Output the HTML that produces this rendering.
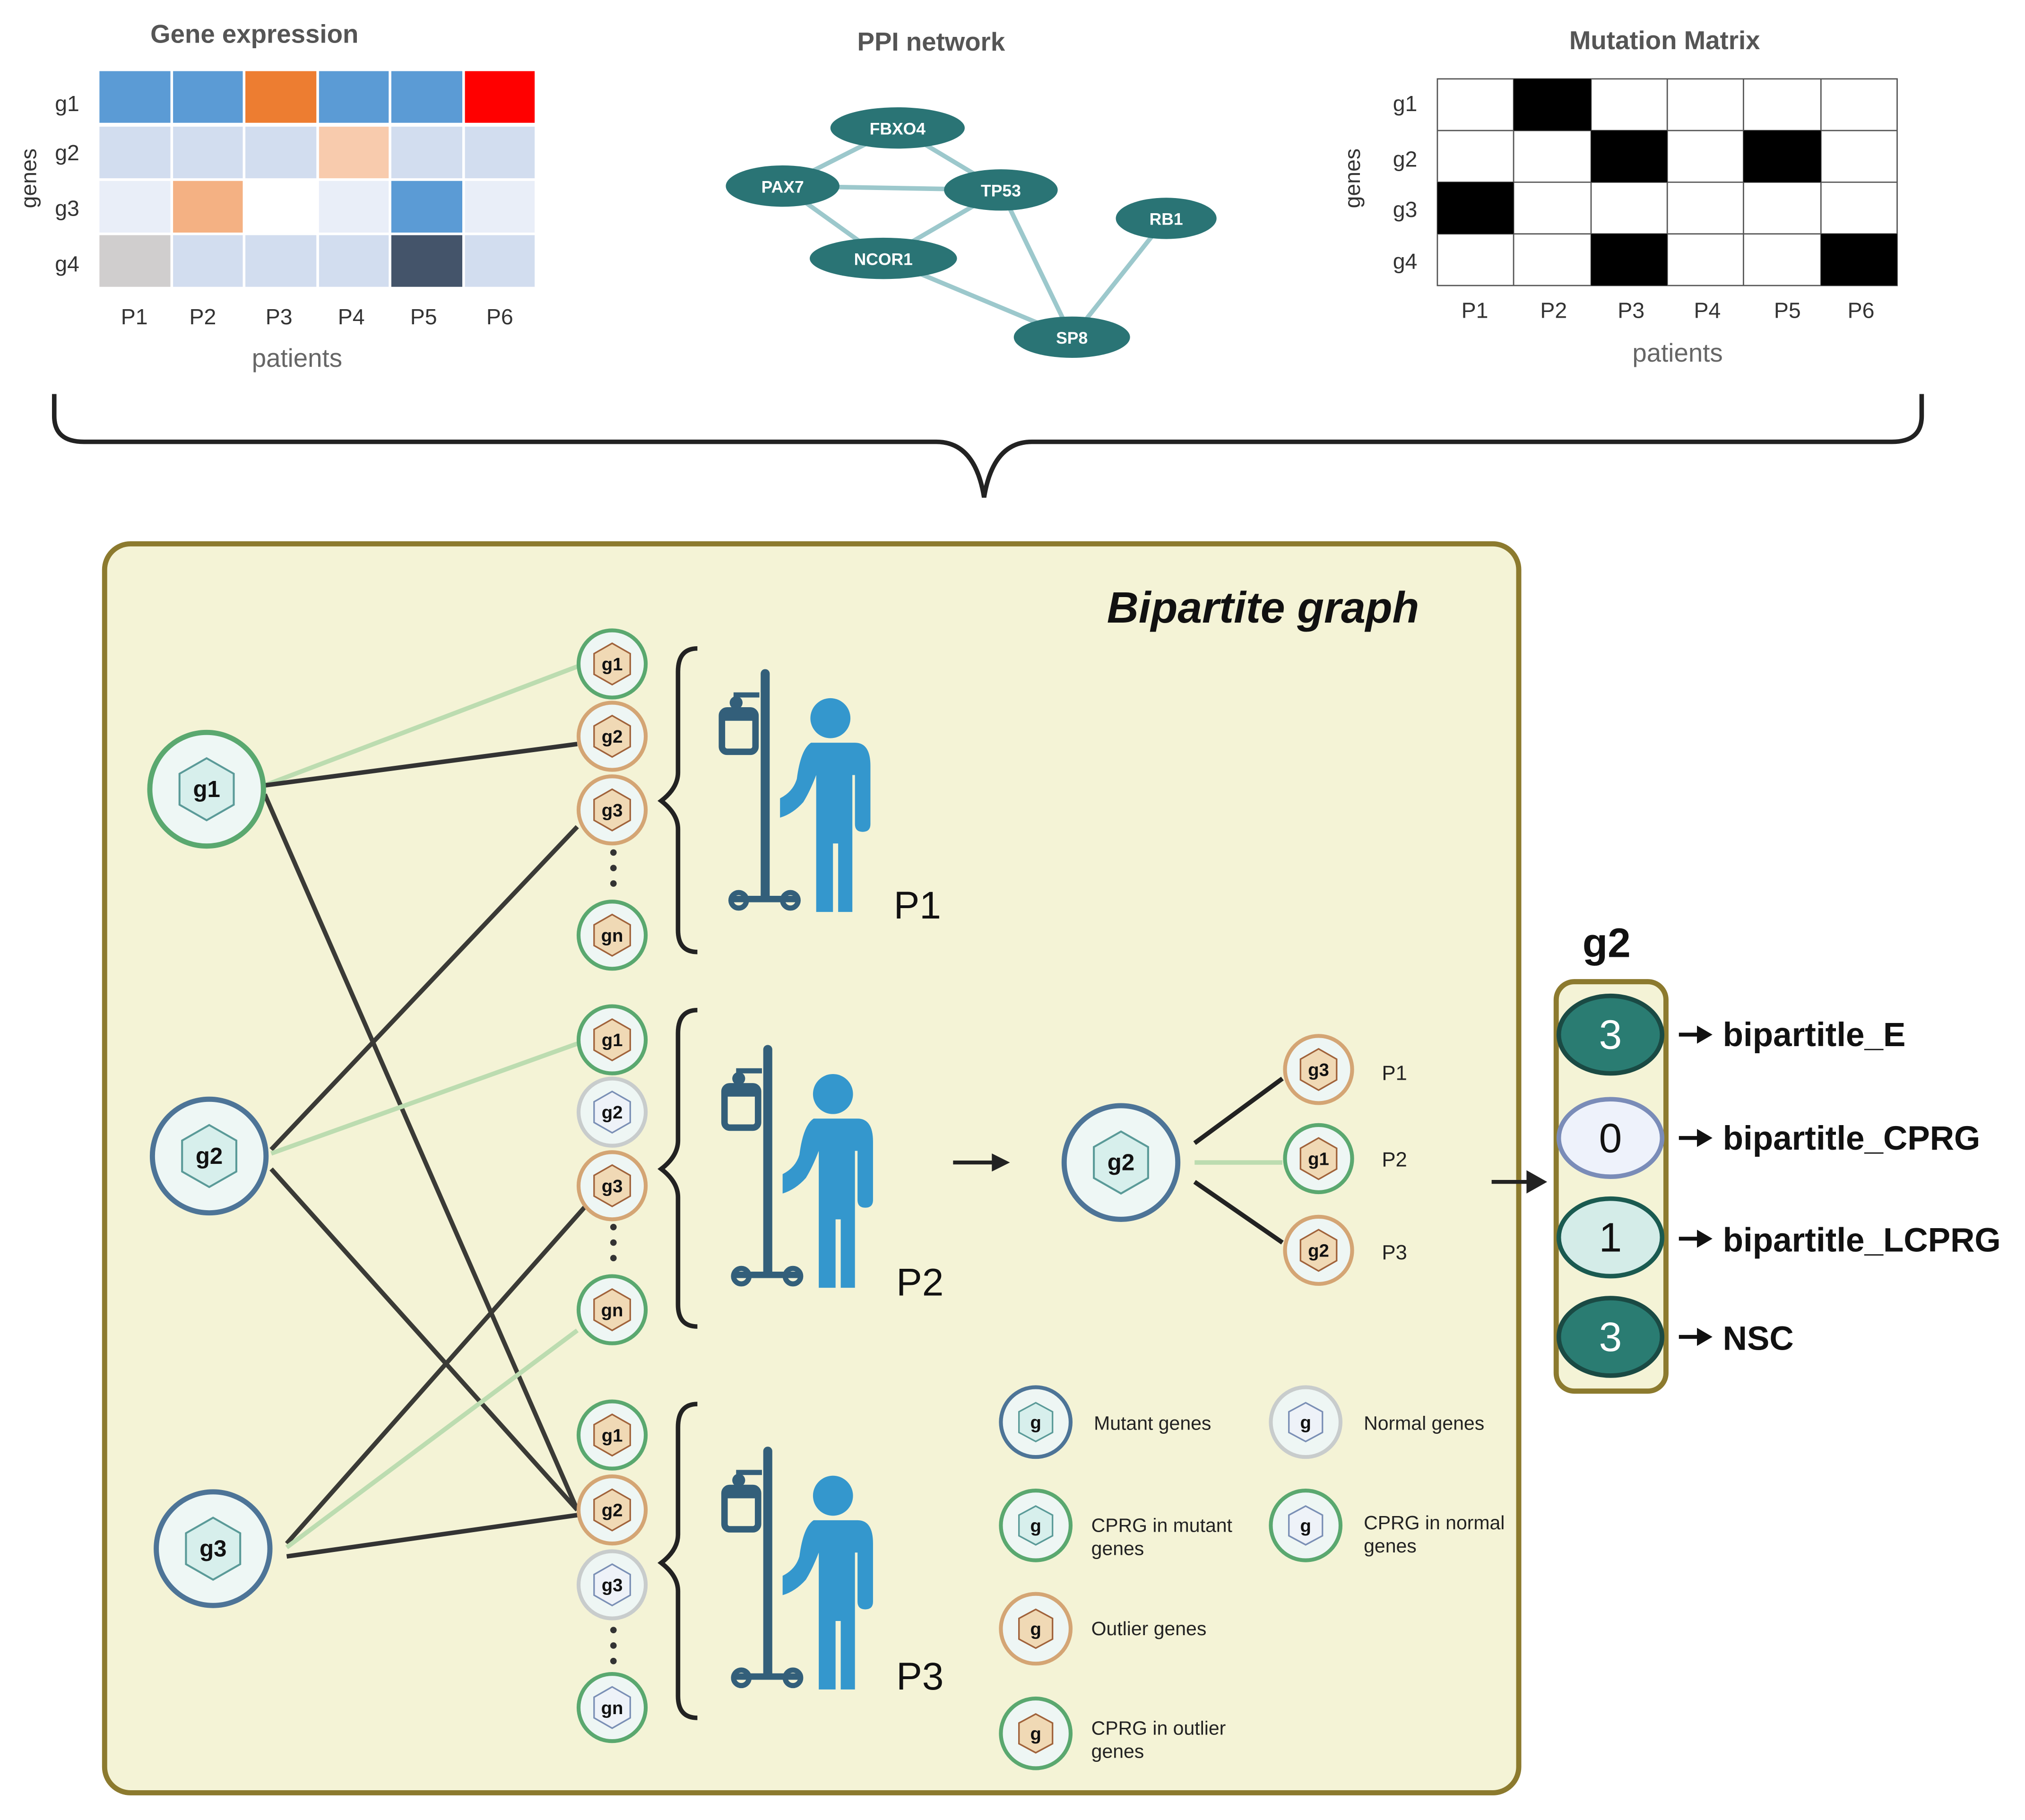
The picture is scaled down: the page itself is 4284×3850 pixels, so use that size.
<!DOCTYPE html>
<html><head><meta charset="utf-8"><style>html,body{margin:0;padding:0;background:#fff}svg{display:block}text{font-family:"Liberation Sans",sans-serif}</style></head><body>
<svg width="4284" height="3850" viewBox="0 0 1568 1409" xmlns="http://www.w3.org/2000/svg">
<defs>
<g id="pt">
 <rect x="-3" y="0" width="7" height="180" rx="3.5" fill="#335f7a"/>
 <path d="M-4 20 H-22 V28" stroke="#335f7a" stroke-width="4" fill="none"/>
 <circle cx="-22" cy="26" r="5" fill="#335f7a"/>
 <rect x="-33" y="32" width="26" height="32" rx="4" fill="none" stroke="#335f7a" stroke-width="5"/>
 <rect x="-33" y="32" width="26" height="8" fill="#335f7a"/>
 <path d="M-25 178 H25" stroke="#335f7a" stroke-width="5"/>
 <circle cx="-20" cy="179" r="6" fill="none" stroke="#335f7a" stroke-width="4"/>
 <circle cx="20" cy="179" r="6" fill="none" stroke="#335f7a" stroke-width="4"/>
 <circle cx="51" cy="38" r="15.5" fill="#3497cd"/>
 <path d="M36 57 H70 Q82 57 82 75 V120 Q82 126 76 126 Q70 126 70 120 V82 H68 V188 H57 V135 H53 V188 H40 V82 Q35 95 30 103 Q22 112 12 115 V100 Q22 95 25 85 Q28 62 36 57 Z" fill="#3497cd"/>
</g>
</defs>
<rect width="1568" height="1409" fill="#fff"/>
<!-- Gene expression -->
<text x="197" y="33" font-size="20" font-weight="bold" fill="#555" text-anchor="middle">Gene expression</text>
<g stroke="#fff" stroke-width="2">
<rect x="76" y="54" width="57" height="42" fill="#5b9bd5"/><rect x="133" y="54" width="56" height="42" fill="#5b9bd5"/><rect x="189" y="54" width="57" height="42" fill="#ed7d31"/><rect x="246" y="54" width="56" height="42" fill="#5b9bd5"/><rect x="302" y="54" width="57" height="42" fill="#5b9bd5"/><rect x="359" y="54" width="56" height="42" fill="#ff0000"/>
<rect x="76" y="97" width="57" height="42" fill="#d2ddef"/><rect x="133" y="97" width="56" height="42" fill="#d2ddef"/><rect x="189" y="97" width="57" height="42" fill="#d2ddef"/><rect x="246" y="97" width="56" height="42" fill="#f8cbad"/><rect x="302" y="97" width="57" height="42" fill="#d2ddef"/><rect x="359" y="97" width="56" height="42" fill="#d2ddef"/>
<rect x="76" y="139" width="57" height="42" fill="#e9eef8"/><rect x="133" y="139" width="56" height="42" fill="#f4b183"/><rect x="189" y="139" width="57" height="42" fill="#ffffff"/><rect x="246" y="139" width="56" height="42" fill="#e9eef8"/><rect x="302" y="139" width="57" height="42" fill="#5b9bd5"/><rect x="359" y="139" width="56" height="42" fill="#e9eef8"/>
<rect x="76" y="181" width="57" height="42" fill="#d0cece"/><rect x="133" y="181" width="56" height="42" fill="#d2ddef"/><rect x="189" y="181" width="57" height="42" fill="#d2ddef"/><rect x="246" y="181" width="56" height="42" fill="#d2ddef"/><rect x="302" y="181" width="57" height="42" fill="#44546a"/><rect x="359" y="181" width="56" height="42" fill="#d2ddef"/>
</g>
<g font-size="17" fill="#333" text-anchor="middle">
<text x="52" y="86">g1</text><text x="52" y="124">g2</text><text x="52" y="167">g3</text><text x="52" y="210">g4</text>
<text x="104" y="251">P1</text><text x="157" y="251">P2</text><text x="216" y="251">P3</text><text x="272" y="251">P4</text><text x="328" y="251">P5</text><text x="387" y="251">P6</text>
<text transform="translate(28,138) rotate(-90)">genes</text>
<text x="230" y="284" font-size="20" fill="#666">patients</text>
</g>
<!-- PPI -->
<text x="721" y="39" font-size="20" font-weight="bold" fill="#555" text-anchor="middle">PPI network</text>
<g stroke="#9cc8cc" stroke-width="3.5">
<line x1="695" y1="99" x2="606" y2="144"/><line x1="695" y1="99" x2="775" y2="147"/><line x1="606" y1="144" x2="775" y2="147"/><line x1="606" y1="144" x2="684" y2="200"/><line x1="684" y1="200" x2="775" y2="147"/><line x1="775" y1="147" x2="830" y2="261"/><line x1="684" y1="200" x2="830" y2="261"/><line x1="903" y1="169" x2="830" y2="261"/>
</g>
<g fill="#2a7475">
<ellipse cx="695" cy="99" rx="52" ry="16"/><ellipse cx="606" cy="144" rx="44" ry="16"/><ellipse cx="775" cy="147" rx="44" ry="16"/><ellipse cx="684" cy="200" rx="57" ry="16"/><ellipse cx="903" cy="169" rx="39" ry="16"/><ellipse cx="830" cy="261" rx="45" ry="16"/>
</g>
<g fill="#fff" font-size="13" font-weight="bold" text-anchor="middle">
<text x="695" y="104">FBXO4</text><text x="606" y="149">PAX7</text><text x="775" y="152">TP53</text><text x="684" y="205">NCOR1</text><text x="903" y="174">RB1</text><text x="830" y="266">SP8</text>
</g>
<!-- Mutation -->
<text x="1289" y="38" font-size="20" font-weight="bold" fill="#555" text-anchor="middle">Mutation Matrix</text>
<g stroke="#555" stroke-width="1">
<rect x="1113" y="61" width="356" height="160" fill="#fff"/>
<line x1="1172" y1="61" x2="1172" y2="221"/><line x1="1232" y1="61" x2="1232" y2="221"/><line x1="1291" y1="61" x2="1291" y2="221"/><line x1="1350" y1="61" x2="1350" y2="221"/><line x1="1410" y1="61" x2="1410" y2="221"/>
<line x1="1113" y1="101" x2="1469" y2="101"/><line x1="1113" y1="141" x2="1469" y2="141"/><line x1="1113" y1="181" x2="1469" y2="181"/>
</g>
<g fill="#000">
<rect x="1172" y="61" width="60" height="40"/><rect x="1232" y="101" width="59" height="40"/><rect x="1350" y="101" width="60" height="40"/><rect x="1113" y="141" width="59" height="40"/><rect x="1232" y="181" width="59" height="40"/><rect x="1410" y="181" width="59" height="40"/>
</g>
<g font-size="17" fill="#333" text-anchor="middle">
<text x="1088" y="86">g1</text><text x="1088" y="129">g2</text><text x="1088" y="168">g3</text><text x="1088" y="208">g4</text>
<text x="1142" y="246">P1</text><text x="1203" y="246">P2</text><text x="1263" y="246">P3</text><text x="1322" y="246">P4</text><text x="1384" y="246">P5</text><text x="1441" y="246">P6</text>
<text transform="translate(1053,138) rotate(-90)">genes</text>
<text x="1299" y="280" font-size="20" fill="#666">patients</text>
</g>
<!-- brace -->
<path d="M42 305 V322 Q42 342 65 342 H725 Q755 342 762 385 Q769 342 799 342 H1465 Q1488 342 1488 322 V305" fill="none" stroke="#222" stroke-width="3.5"/>
<!-- box -->
<rect x="81" y="421" width="1095" height="967" rx="20" fill="#f4f3d6" stroke="#8c7a2e" stroke-width="4"/>
<text x="978" y="482" font-size="34" font-weight="bold" font-style="italic" fill="#111" text-anchor="middle">Bipartite graph</text>
<!-- edges -->
<g stroke-width="3.5" fill="none">
<line x1="205" y1="608" x2="447" y2="516" stroke="#bcdcb0"/>
<line x1="205" y1="608" x2="447" y2="576" stroke="#333"/>
<line x1="205" y1="615" x2="447" y2="1169" stroke="#3a3a36"/>
<line x1="210" y1="890" x2="447" y2="640" stroke="#3a3a36"/>
<line x1="210" y1="893" x2="447" y2="808" stroke="#bcdcb0"/>
<line x1="210" y1="905" x2="447" y2="1169" stroke="#3a3a36"/>
<line x1="222" y1="1195" x2="455" y2="932" stroke="#3a3a36"/>
<line x1="222" y1="1198" x2="447" y2="1030" stroke="#bcdcb0"/>
<line x1="222" y1="1205" x2="447" y2="1173" stroke="#333"/>
<line x1="925" y1="885" x2="993" y2="835" stroke="#222"/>
<line x1="925" y1="900" x2="993" y2="900" stroke="#bcdcb0"/>
<line x1="925" y1="915" x2="993" y2="962" stroke="#222"/>
</g>
<!-- big nodes -->
<g stroke-width="4">
<circle cx="160" cy="611" r="44" fill="#eef7f5" stroke="#5aa86f"/>
<circle cx="162" cy="895" r="44" fill="#eef7f5" stroke="#4d7497"/>
<circle cx="165" cy="1199" r="44" fill="#eef7f5" stroke="#4d7497"/>
<circle cx="868" cy="900" r="44" fill="#eef7f5" stroke="#4d7497"/>
</g>
<g fill="#d7efec" stroke="#5a9a98" stroke-width="1.5">
<polygon points="160,587 181,599 181,623 160,635 139,623 139,599"/>
<polygon points="162,871 183,883 183,907 162,919 141,907 141,883"/>
<polygon points="165,1175 186,1187 186,1211 165,1223 144,1211 144,1187"/>
<polygon points="868,876 889,888 889,912 868,924 847,912 847,888"/>
</g>
<g font-size="18" font-weight="bold" fill="#111" text-anchor="middle">
<text x="160" y="617">g1</text><text x="162" y="901">g2</text><text x="165" y="1205">g3</text><text x="868" y="906">g2</text>
</g>
<!-- small nodes -->
<g stroke-width="3" fill="#eef6f4">
<circle cx="474" cy="514" r="26" stroke="#5aa86f"/><circle cx="474" cy="570" r="26" stroke="#d4a574"/><circle cx="474" cy="627" r="26" stroke="#d4a574"/><circle cx="474" cy="724" r="26" stroke="#5aa86f"/>
<circle cx="474" cy="805" r="26" stroke="#5aa86f"/><circle cx="474" cy="861" r="26" stroke="#c8cccc"/><circle cx="474" cy="918" r="26" stroke="#d4a574"/><circle cx="474" cy="1014" r="26" stroke="#5aa86f"/>
<circle cx="474" cy="1111" r="26" stroke="#5aa86f"/><circle cx="474" cy="1169" r="26" stroke="#d4a574"/><circle cx="474" cy="1227" r="26" stroke="#c8cccc"/><circle cx="474" cy="1322" r="26" stroke="#5aa86f"/>
<circle cx="1021" cy="828" r="26" stroke="#d4a574"/><circle cx="1021" cy="897" r="26" stroke="#5aa86f"/><circle cx="1021" cy="968" r="26" stroke="#d4a574"/>
</g>
<g stroke-width="1.2">
<g fill="#f0d9b5" stroke="#a0623a">
<polygon points="474,498 488,506 488,522 474,530 460,522 460,506"/>
<polygon points="474,554 488,562 488,578 474,586 460,578 460,562"/>
<polygon points="474,611 488,619 488,635 474,643 460,635 460,619"/>
<polygon points="474,708 488,716 488,732 474,740 460,732 460,716"/>
<polygon points="474,789 488,797 488,813 474,821 460,813 460,797"/>
<polygon points="474,902 488,910 488,926 474,934 460,926 460,910"/>
<polygon points="474,998 488,1006 488,1022 474,1030 460,1022 460,1006"/>
<polygon points="474,1095 488,1103 488,1119 474,1127 460,1119 460,1103"/>
<polygon points="474,1153 488,1161 488,1177 474,1185 460,1177 460,1161"/>
<polygon points="1021,812 1035,820 1035,836 1021,844 1007,836 1007,820"/>
<polygon points="1021,881 1035,889 1035,905 1021,913 1007,905 1007,889"/>
<polygon points="1021,952 1035,960 1035,976 1021,984 1007,976 1007,960"/>
</g>
<g fill="#eef2f8" stroke="#7a8fb5">
<polygon points="474,845 488,853 488,869 474,877 460,869 460,853"/>
<polygon points="474,1211 488,1219 488,1235 474,1243 460,1235 460,1219"/>
<polygon points="474,1306 488,1314 488,1330 474,1338 460,1330 460,1314"/>
</g>
</g>
<g font-size="14" font-weight="bold" fill="#111" text-anchor="middle">
<text x="474" y="519">g1</text><text x="474" y="575">g2</text><text x="474" y="632">g3</text><text x="474" y="729">gn</text>
<text x="474" y="810">g1</text><text x="474" y="866">g2</text><text x="474" y="923">g3</text><text x="474" y="1019">gn</text>
<text x="474" y="1116">g1</text><text x="474" y="1174">g2</text><text x="474" y="1232">g3</text><text x="474" y="1327">gn</text>
<text x="1021" y="833">g3</text><text x="1021" y="902">g1</text><text x="1021" y="973">g2</text>
</g>
<g fill="#333">
<circle cx="475" cy="660" r="2.5"/><circle cx="475" cy="672" r="2.5"/><circle cx="475" cy="684" r="2.5"/>
<circle cx="475" cy="950" r="2.5"/><circle cx="475" cy="962" r="2.5"/><circle cx="475" cy="974" r="2.5"/>
<circle cx="475" cy="1262" r="2.5"/><circle cx="475" cy="1274" r="2.5"/><circle cx="475" cy="1286" r="2.5"/>
</g>
<!-- braces -->
<g fill="none" stroke="#222" stroke-width="3.5">
<path d="M540 502 Q525 502 525 520 V598 Q525 610 512 620 Q525 630 525 642 V720 Q525 737 540 737"/>
<path d="M540 782 Q525 782 525 800 V883 Q525 895 512 905 Q525 915 525 927 V1010 Q525 1027 540 1027"/>
<path d="M540 1087 Q525 1087 525 1105 V1188 Q525 1200 512 1210 Q525 1220 525 1232 V1313 Q525 1330 540 1330"/>
</g>
<use href="#pt" x="592" y="518"/>
<use href="#pt" x="594" y="809"/>
<use href="#pt" x="594" y="1120"/>
<g font-size="30" fill="#111">
<text x="692" y="711">P1</text><text x="694" y="1003">P2</text><text x="694" y="1308">P3</text>
</g>
<g font-size="16" fill="#222"><text x="1070" y="836">P1</text><text x="1070" y="903">P2</text><text x="1070" y="975">P3</text></g>
<!-- arrows -->
<g stroke="#222" stroke-width="3"><line x1="738" y1="900" x2="770" y2="900"/><line x1="1155" y1="915" x2="1185" y2="915"/></g>
<polygon points="782,900 768,893 768,907" fill="#222"/>
<polygon points="1198,915 1182,906 1182,924" fill="#222"/>
<!-- legend -->
<g stroke-width="3">
<circle cx="802" cy="1101" r="27" fill="#eef6f4" stroke="#4d7497"/>
<circle cx="1011" cy="1101" r="27" fill="#eef6f4" stroke="#c8cccc"/>
<circle cx="802" cy="1181" r="27" fill="#eef6f4" stroke="#5aa86f"/>
<circle cx="1011" cy="1181" r="27" fill="#eef6f4" stroke="#5aa86f"/>
<circle cx="802" cy="1261" r="27" fill="#eef6f4" stroke="#d4a574"/>
<circle cx="802" cy="1342" r="27" fill="#eef6f4" stroke="#5aa86f"/>
</g>
<g stroke-width="1.2">
<polygon points="802,1086 815,1093 815,1109 802,1116 789,1109 789,1093" fill="#d7efec" stroke="#5a9a98"/>
<polygon points="1011,1086 1024,1093 1024,1109 1011,1116 998,1109 998,1093" fill="#eef2f8" stroke="#7a8fb5"/>
<polygon points="802,1166 815,1173 815,1189 802,1196 789,1189 789,1173" fill="#d7efec" stroke="#5a9a98"/>
<polygon points="1011,1166 1024,1173 1024,1189 1011,1196 998,1189 998,1173" fill="#eef2f8" stroke="#7a8fb5"/>
<polygon points="802,1246 815,1253 815,1269 802,1276 789,1269 789,1253" fill="#f0d9b5" stroke="#a0623a"/>
<polygon points="802,1327 815,1334 815,1350 802,1357 789,1350 789,1334" fill="#f0d9b5" stroke="#a0623a"/>
</g>
<g font-size="14" font-weight="bold" fill="#111" text-anchor="middle">
<text x="802" y="1106">g</text><text x="1011" y="1106">g</text><text x="802" y="1186">g</text><text x="1011" y="1186">g</text><text x="802" y="1266">g</text><text x="802" y="1347">g</text>
</g>
<g font-size="15" fill="#222">
<text x="847" y="1107">Mutant genes</text><text x="1056" y="1107">Normal genes</text>
<text x="845" y="1186">CPRG in mutant</text><text x="845" y="1204">genes</text>
<text x="1056" y="1184">CPRG in normal</text><text x="1056" y="1202">genes</text>
<text x="845" y="1266">Outlier genes</text>
<text x="845" y="1343">CPRG  in outlier</text><text x="845" y="1361">genes</text>
</g>
<!-- right panel -->
<text x="1244" y="741" font-size="32" font-weight="bold" fill="#111" text-anchor="middle">g2</text>
<rect x="1205" y="760" width="85" height="317" rx="14" fill="#f4f3d6" stroke="#8c7a2e" stroke-width="4"/>
<g stroke-width="3.5">
<ellipse cx="1247" cy="801" rx="40" ry="30" fill="#2a7c72" stroke="#1a4a44"/>
<ellipse cx="1247" cy="881" rx="40" ry="30" fill="#eef2fb" stroke="#7a8cb8"/>
<ellipse cx="1247" cy="958" rx="40" ry="30" fill="#d4ece8" stroke="#1a5a50"/>
<ellipse cx="1247" cy="1035" rx="40" ry="30" fill="#2a7c72" stroke="#1a4a44"/>
</g>
<g font-size="32" text-anchor="middle">
<text x="1247" y="812" fill="#fff">3</text><text x="1247" y="892" fill="#111">0</text><text x="1247" y="969" fill="#111">1</text><text x="1247" y="1046" fill="#fff">3</text>
</g>
<g stroke="#111" stroke-width="3">
<line x1="1300" y1="801" x2="1318" y2="801"/><line x1="1300" y1="881" x2="1318" y2="881"/><line x1="1300" y1="959" x2="1318" y2="959"/><line x1="1300" y1="1035" x2="1318" y2="1035"/>
</g>
<g fill="#111">
<polygon points="1326,801 1314,794 1314,808"/><polygon points="1326,881 1314,874 1314,888"/><polygon points="1326,959 1314,952 1314,966"/><polygon points="1326,1035 1314,1028 1314,1042"/>
</g>
<g font-size="26" font-weight="bold" fill="#111">
<text x="1334" y="810">bipartitle_E</text>
<text x="1334" y="890">bipartitle_CPRG</text>
<text x="1334" y="969">bipartitle_LCPRG</text>
<text x="1334" y="1045">NSC</text>
</g>
</svg>
</body></html>
